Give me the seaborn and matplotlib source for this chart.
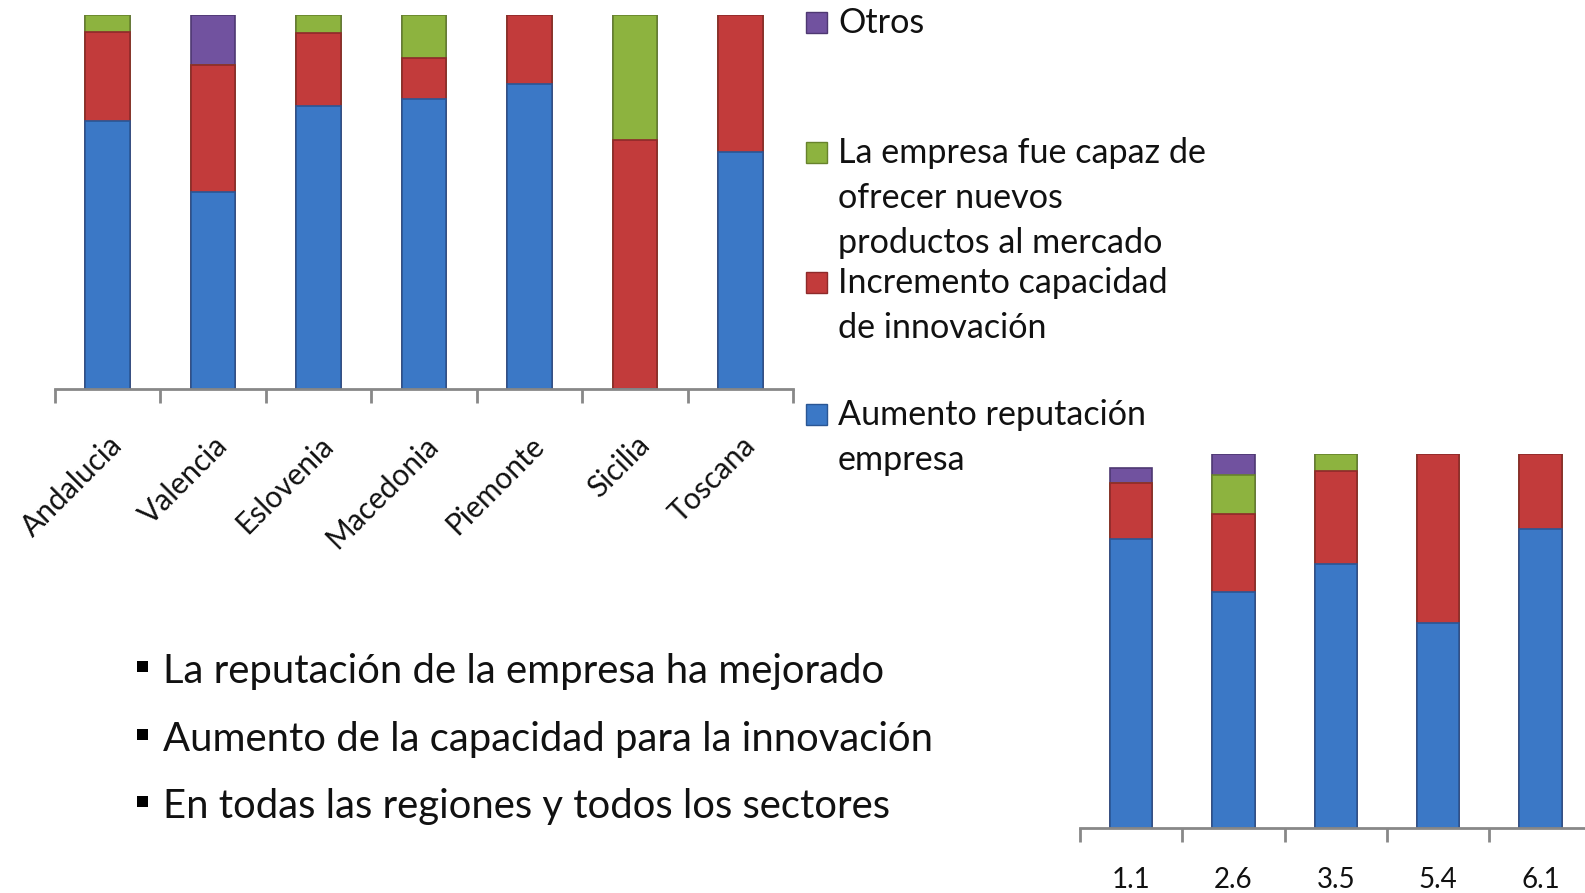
import numpy as np
import pandas as pd
import matplotlib.pyplot as plt
from matplotlib.patches import Rectangle
import seaborn as sns

# Series order bottom -> top
SERIES = ["Aumento reputación empresa",
          "Incremento capacidad de innovación",
          "La empresa fue capaz de ofrecer nuevos productos al mercado",
          "Otros"]
COLORS = ["#3B78C6", "#C23B3B", "#8DB33F", "#71529F"]
EDGES = ["#2A5694", "#8E2A2A", "#67832C", "#4E3872"]

# Top chart: regions (%)
regions = ["Andalucia", "Valencia", "Eslovenia", "Macedonia", "Piemonte", "Sicilia", "Toscana"]
reg_reputacion = [71.7, 52.7, 75.7, 77.5, 81.6, 0.0, 63.4]
reg_innovacion = [23.8, 33.8, 19.4, 11.1, 18.4, 66.7, 36.6]
reg_productos = [4.5, 0.0, 4.9, 11.4, 0.0, 33.3, 0.0]
reg_otros = [0.0, 13.5, 0.0, 0.0, 0.0, 0.0, 0.0]

# Bottom chart: sectors (%)
sectors = ["1.1", "2.6", "3.5", "5.4", "6.1"]
sec_reputacion = [77.3, 63.1, 70.6, 54.9, 79.9]
sec_innovacion = [14.9, 21.0, 24.8, 45.1, 20.1]
sec_productos = [0.0, 10.3, 4.5, 0.0, 0.0]
sec_otros = [4.0, 5.5, 0.0, 0.0, 0.0]

bullets = ["La reputación de la empresa ha mejorado",
           "Aumento de la capacidad para la innovación",
           "En todas las regiones y todos los sectores"]

# legend, top -> bottom, wrapped as in the slide
legend_lines = [["Otros"],
                ["La empresa fue capaz de", "ofrecer nuevos", "productos al mercado"],
                ["Incremento capacidad", "de innovación"],
                ["Aumento reputación", "empresa"]]

W, H = 1585, 893
FONT = ["Lato", "DejaVu Sans"]

sns.set_theme(style="white")
plt.rcParams['font.family'] = FONT


def px(x, y):
    return x / W, 1 - y / H


def stacked(ax, cats, layers, width, label_kw):
    df = pd.DataFrame({"cat": cats})
    cum = np.cumsum(np.array(layers), axis=0)
    # draw from the top layer down so lower layers overlay
    for i in range(len(layers) - 1, -1, -1):
        df["val"] = cum[i]
        sns.barplot(data=df, x="cat", y="val", ax=ax, color=COLORS[i],
                    width=width, edgecolor=EDGES[i], linewidth=1.2,
                    saturation=1)
    n = len(cats)
    ax.set_xlim(-0.5, n - 0.5)
    ax.set_ylim(0, 100)
    ax.set_yticks([])
    ax.set_xlabel("")
    ax.set_ylabel("")
    for s in ["top", "right", "left"]:
        ax.spines[s].set_visible(False)
    ax.spines["bottom"].set_color("#888888")
    ax.spines["bottom"].set_linewidth(2)
    ax.set_xticks(np.arange(-0.5, n, 1.0))
    ax.set_xticklabels([])
    ax.set_xticks(range(n), minor=True)
    ax.set_xticklabels(cats, minor=True, color="#111111", **label_kw)
    ax.tick_params(axis="x", which="major", direction="out", length=10,
                   width=2, color="#888888", bottom=True)
    ax.tick_params(axis="x", which="minor", length=0)


fig = plt.figure(figsize=(W / 100, H / 100), dpi=100)

# top chart
l, b = px(54.7, 389)
ax1 = fig.add_axes([l, b, 738.5 / W, (389 - 15) / H])
stacked(ax1, regions, [reg_reputacion, reg_innovacion, reg_productos, reg_otros], 0.42,
        dict(rotation=45, ha="right", va="top", rotation_mode="anchor", fontsize=21.5))
ax1.tick_params(axis="x", which="minor", pad=30)

# bottom chart
l, b = px(1080, 828.3)
ax2 = fig.add_axes([l, b, 511.8 / W, (828.3 - 454) / H])
stacked(ax2, sectors, [sec_reputacion, sec_innovacion, sec_productos, sec_otros], 0.415,
        dict(fontsize=20))
ax2.tick_params(axis="x", which="minor", pad=28)

# legend: Otros, productos, innovacion, reputacion
first_base = [33, 163, 293, 425]
for k, (lines, yb) in enumerate(zip(legend_lines, first_base)):
    si = 3 - k
    x0, y0 = px(806, yb)
    fig.patches.append(Rectangle((x0, y0), 21 / W, 21 / H, transform=fig.transFigure,
                                 figure=fig, facecolor=COLORS[si], edgecolor=EDGES[si], lw=1))
    for j, line in enumerate(lines):
        tx, ty = px(838, yb + j * 45)
        fig.text(tx, ty, line, fontsize=24.6, va="baseline", ha="left", color="#111111")

# bullet text
for k, t in enumerate(bullets):
    yb = 683 + k * 67.5
    bx, by = px(137, yb - 11)
    fig.patches.append(Rectangle((bx, by), 11 / W, 11 / H, transform=fig.transFigure,
                                 figure=fig, facecolor="#000000", lw=0))
    tx, ty = px(163, yb)
    fig.text(tx, ty, t, fontsize=28.8, va="baseline", ha="left", color="#111111")

fig.savefig("out.png", dpi=100)
